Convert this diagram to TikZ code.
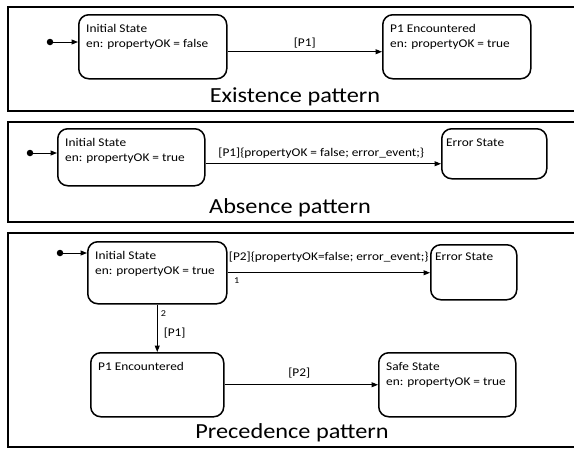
\documentclass[tikz,border=0pt]{standalone}
\usepackage{fontspec}
\setmainfont{Carlito}[FakeStretch=1.13]
\usetikzlibrary{arrows.meta}
\begin{document}
\begin{tikzpicture}[x=1pt,y=-1pt,
  panel/.style={draw, line width=1.6pt},
  state/.style={draw, line width=1.5pt, rounded corners=10pt, anchor=north west, inner sep=0pt},
  lbl/.style={font=\fontsize{11.8}{15}\selectfont, inner sep=0pt, anchor=base west},
  elbl/.style={font=\fontsize{11.8}{15}\selectfont, inner sep=0pt, anchor=base},
  ttl/.style={font=\fontsize{21.5}{26}\selectfont, inner sep=0pt, anchor=base},
  num/.style={font=\fontsize{9}{10}\selectfont, inner sep=0pt, anchor=base west},
  arr/.style={-{Triangle[length=6.5pt,width=5pt]}, line width=1pt},
  dot/.style={circle, fill, inner sep=0pt, minimum size=6.5pt}]
\useasboundingbox (0,0) rectangle (574,450);
\clip (0,0) rectangle (574,450);
\fill[white] (0,0) rectangle (574,450);

% ---------- Existence pattern ----------
\draw[panel] (8,7) rectangle (600,111);
\node[state, minimum width=148pt, minimum height=64pt] (e0) at (78,14) {};
\node[lbl] (e0a) at ([xshift=8pt,yshift=-18pt]e0.north west) {Initial State};
\node[lbl] (e0b) at ([xshift=8pt,yshift=-33pt]e0.north west) {en: propertyOK = false};
\node[state, minimum width=148pt, minimum height=64pt] (e1) at (382,14) {};
\node[lbl] (e1a) at ([xshift=8pt,yshift=-18pt]e1.north west) {P1 Encountered};
\node[lbl] (e1b) at ([xshift=8pt,yshift=-33pt]e1.north west) {en: propertyOK = true};
\node[dot] (ed) at (50,42) {};
\draw[arr] (ed) -- (ed -| e0.west);
\draw[arr] ([yshift=-5pt]e0.east) -- ([yshift=-5pt]e0.east -| e1.west)
  node[elbl, midway, yshift=5.5pt] (el) {[P1]};
\node[ttl] (et) at (295,102) {Existence pattern};

% ---------- Absence pattern ----------
\draw[panel] (8,122) rectangle (600,222);
\node[state, minimum width=147pt, minimum height=57pt] (a0) at (57,128) {};
\node[lbl] (a0a) at ([xshift=8pt,yshift=-18pt]a0.north west) {Initial State};
\node[lbl] (a0b) at ([xshift=8pt,yshift=-33pt]a0.north west) {en: propertyOK = true};
\node[state, minimum width=105pt, minimum height=50pt] (a1) at (441,128) {};
\node[lbl] (a1a) at ([xshift=5pt,yshift=-18pt]a1.north west) {Error State};
\node[dot] (ad) at (30,153) {};
\draw[arr] (ad) -- (ad -| a0.west);
\draw[arr] ([yshift=-6.5pt]a0.east) -- ([yshift=-6.5pt]a0.east -| a1.west)
  node[elbl, midway, xshift=-2pt, yshift=7.5pt] (al) {[P1]\{propertyOK = false; error\_event;\}};
\node[ttl] (at) at (290,213) {Absence pattern};

% ---------- Precedence pattern ----------
\draw[panel] (8,233) rectangle (600,447);
\node[state, minimum width=139pt, minimum height=62pt] (p0) at (87,241) {};
\node[lbl] (p0a) at ([xshift=8pt,yshift=-18pt]p0.north west) {Initial State};
\node[lbl] (p0b) at ([xshift=8pt,yshift=-33pt]p0.north west) {en: propertyOK = true};
\node[state, minimum width=86pt, minimum height=55pt] (p1) at (430,244) {};
\node[lbl] (p1a) at ([xshift=5pt,yshift=-16pt]p1.north west) {Error State};
\node[state, minimum width=133pt, minimum height=64pt] (p2) at (90,352) {};
\node[lbl] (p2a) at ([xshift=8pt,yshift=-18pt]p2.north west) {P1 Encountered};
\node[state, minimum width=137pt, minimum height=64pt] (p3) at (378,352) {};
\node[lbl] (p3a) at ([xshift=8pt,yshift=-18pt]p3.north west) {Safe State};
\node[lbl] (p3b) at ([xshift=8pt,yshift=-33pt]p3.north west) {en: propertyOK = true};
\node[dot] (pd) at (60,253) {};
\draw[arr] (pd) -- (pd -| p0.west);
\draw[arr] (p0.east) -- (p0.east -| p1.west)
  node[elbl, midway, yshift=12.5pt] (pl1) {[P2]\{propertyOK=false; error\_event;\}}
  node[num, pos=0, xshift=6pt, yshift=-11pt] (pn1) {1};
\draw[arr] (p0.south) -- (p2.north)
  node[lbl, midway, xshift=6pt, yshift=-8.5pt] (pl2) {[P1]}
  node[num, pos=0, xshift=3pt, yshift=-12pt] (pn2) {2};
\draw[arr] (p2.east) -- (p3.west)
  node[elbl, midway, xshift=-2pt, yshift=8.5pt] (pl3) {[P2]};
\node[ttl] (pt) at (292,438) {Precedence pattern};
\end{tikzpicture}
\end{document}
